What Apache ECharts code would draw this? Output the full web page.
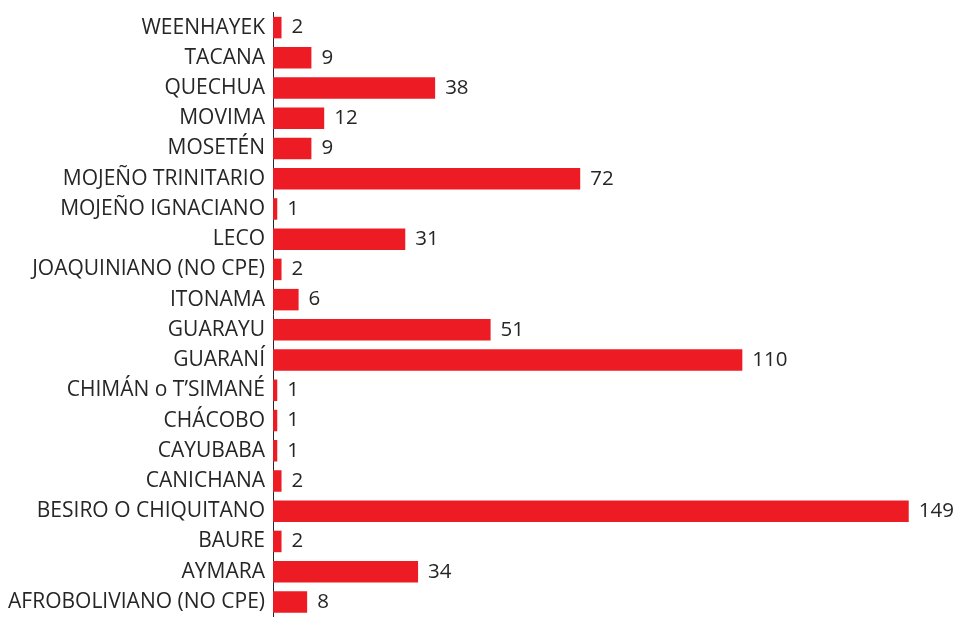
<!DOCTYPE html>
<html>
<head>
<meta charset="utf-8">
<title>Pueblos</title>
<script src="https://cdn.jsdelivr.net/npm/echarts@6/dist/echarts.min.js"></script>
<style>
    html, body { margin: 0; padding: 0; background: #fff; }
    #chart { width: 957px; height: 617px; }
</style>
</head>
<body>
<div id="chart"></div>
<script>
// categories from bottom to top (ECharts category y-axis starts at the bottom)
var pueblos = [
    'AFROBOLIVIANO (NO CPE)', 'AYMARA', 'BAURE', 'BESIRO O CHIQUITANO', 'CANICHANA',
    'CAYUBABA', 'CHÁCOBO', 'CHIMÁN o T\u2019SIMANÉ', 'GUARANÍ', 'GUARAYU',
    'ITONAMA', 'JOAQUINIANO (NO CPE)', 'LECO', 'MOJEÑO IGNACIANO', 'MOJEÑO TRINITARIO',
    'MOSETÉN', 'MOVIMA', 'QUECHUA', 'TACANA', 'WEENHAYEK'
];
var cantidad = [8, 34, 2, 149, 2, 1, 1, 1, 110, 51, 6, 2, 31, 1, 72, 9, 12, 38, 9, 2];

var fuente = '"Open Sans", "Noto Sans", sans-serif';
var chart = echarts.init(document.getElementById('chart'));
chart.setOption({
    animation: false,
    grid: { left: 273, right: 44, top: 12.5, height: 607, containLabel: false },
    xAxis: {
        type: 'value',
        min: 0,
        max: 150,
        show: false
    },
    yAxis: {
        type: 'category',
        data: pueblos,
        axisLine: { show: true, lineStyle: { color: '#262626', width: 1 } },
        axisTick: { show: false },
        axisLabel: { color: '#262626', fontSize: 21, fontFamily: fuente, margin: 8 }
    },
    series: [{
        type: 'bar',
        data: cantidad,
        barWidth: 21.5,
        itemStyle: { color: '#ED1C24' },
        label: {
            show: true,
            position: 'right',
            distance: 10,
            color: '#262626',
            fontSize: 20.5,
            fontFamily: fuente
        }
    }]
});
</script>
</body>
</html>
